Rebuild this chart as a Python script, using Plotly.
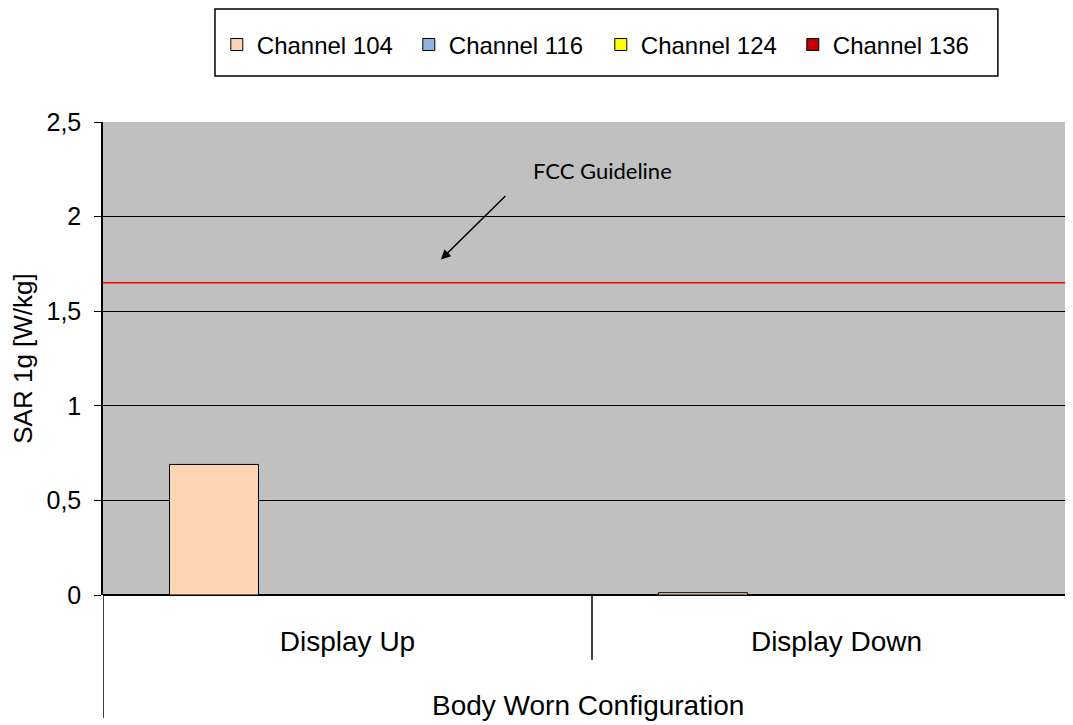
import plotly.graph_objects as go

categories = ["Display Up", "Display Down"]
series_names = ["Channel 104", "Channel 116", "Channel 124", "Channel 136"]
ch104 = [0.69, 0.012]
ch116 = [0, 0]
ch124 = [0, 0]
ch136 = [0, 0]
series_values = [ch104, ch116, ch124, ch136]
colors = ["#FCD5B5", "#8EB4E3", "#FFFF00", "#C00000"]
fcc_limit = 1.65
y_ticks = [0, 0.5, 1, 1.5, 2, 2.5]
group_title = "Body Worn Configuration"

fig = go.Figure()
for name, vals, col in zip(series_names, series_values, colors):
    fig.add_trace(go.Bar(
        x=categories, y=vals, name=name,
        marker=dict(color=col, line=dict(color="black", width=1)),
    ))

font_family = "Liberation Sans, Arial, sans-serif"

fig.update_layout(
    width=1073, height=717,
    margin=dict(l=95, r=0, t=114, b=130, autoexpand=False),
    paper_bgcolor="white",
    plot_bgcolor="#C0C0C0",
    barmode="group",
    bargap=0.272,
    bargroupgap=0,
    separators=",.",
    font=dict(family=font_family, color="black"),
    showlegend=True,
    legend=dict(
        orientation="h", x=0.509, xanchor="center", y=1.163, yanchor="middle",
        bgcolor="rgba(0,0,0,0)", borderwidth=0,
        font=dict(size=24, family=font_family),
        traceorder="normal", entrywidth=147, entrywidthmode="pixels",
    ),
    xaxis=dict(
        type="category", range=[-0.5, 1.5], showgrid=False,
        showline=False, zeroline=False, ticks="",
        tickfont=dict(size=28), ticklabelstandoff=27,
    ),
    yaxis=dict(
        range=[0, 2.5], tickvals=y_ticks, showgrid=True,
        gridcolor="black", gridwidth=1,
        showline=True, linecolor="black", linewidth=1.5,
        ticks="outside", ticklen=7, tickcolor="black",
        tickfont=dict(size=25), ticklabelstandoff=8,
        zeroline=True, zerolinecolor="black", zerolinewidth=2,
        title=dict(text="SAR 1g [W/kg]", font=dict(size=26), standoff=8),
    ),
)

shapes = [
    # legend box
    dict(type="rect", xref="paper", yref="paper", x0=0.1145, x1=0.915,
         y0=1.097, y1=1.239, line=dict(color="black", width=1.5),
         fillcolor="white", layer="below"),
    # FCC limit line
    dict(type="line", xref="paper", yref="y", x0=0, x1=1, y0=fcc_limit,
         y1=fcc_limit, line=dict(color="#FF0000", width=1.5)),
    # left axis extension
    dict(type="line", xref="x", yref="paper", x0=-0.5, x1=-0.5, y0=0,
         y1=-0.26, line=dict(color="black", width=1.5)),
    # category divider
    dict(type="line", xref="x", yref="paper", x0=0.5, x1=0.5, y0=0,
         y1=-0.137, line=dict(color="black", width=1.5)),
]
fig.update_layout(shapes=shapes)

fig.add_annotation(
    x=0.191, y=1.773, xref="x", yref="y", ax=66, ay=-65,
    text="", showarrow=True, arrowhead=2, arrowsize=1.3, arrowwidth=1.5,
    arrowcolor="black",
)
fig.add_annotation(
    x=0.521, y=2.246, xref="x", yref="y", text="FCC Guideline",
    showarrow=False, font=dict(size=22, family="Lato, Open Sans, sans-serif"),
)
fig.add_annotation(
    x=0.496, y=-0.233, xref="paper", yref="paper", text=group_title,
    showarrow=False, font=dict(size=28), yanchor="middle",
)

fig.write_html("out.html")
